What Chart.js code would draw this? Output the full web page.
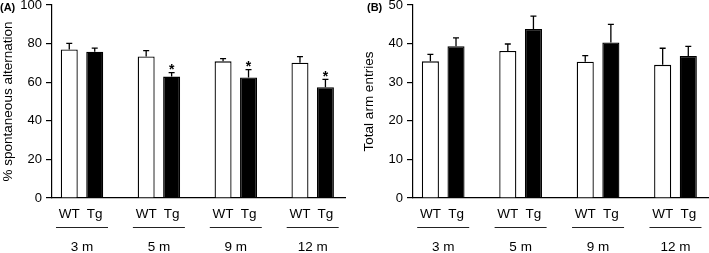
<!DOCTYPE html>
<html lang="en">
<head>
<meta charset="UTF-8" />
<title>Spontaneous alternation and total arm entries</title>
<script src="https://cdn.jsdelivr.net/npm/chart.js@4"></script>
<style>
  body { margin: 0; background: #fff; font-family: "Liberation Sans", Arial, sans-serif; }
  .wrap { position: relative; width: 709px; height: 253px; overflow: hidden; }
  canvas { position: absolute; top: 0; }
  #chartA { left: 0; }
  #chartB { left: 361px; }
  .tag { position: absolute; top: 0; font-weight: bold; font-size: 11px; line-height: 14px; color: #000; }
</style>
</head>
<body>
<div class="wrap">
  <canvas id="chartA" width="355" height="253"></canvas>
  <canvas id="chartB" width="348" height="253"></canvas>
  <div class="tag" style="left:0">(A)</div>
  <div class="tag" style="left:367px">(B)</div>
</div>

<script>
const FONT = '"Liberation Sans", Arial, sans-serif';

// age groups and genotypes
const groups = ['3 m', '5 m', '9 m', '12 m'];
const genotypes = ['WT', 'Tg'];

// (A) % spontaneous alternation
const altWT = [77.0, 73.3, 70.8, 70.1];
const altWTErr = [3.1, 3.1, 1.4, 3.2];
const altTg = [75.8, 62.9, 62.5, 57.4];
const altTgErr = [1.9, 2.1, 4.0, 4.1];
const altTgStar = [false, true, true, true];

// (B) total arm entries
const armWT = [35.4, 38.1, 35.3, 34.5];
const armWTErr = [1.8, 1.8, 1.6, 4.3];
const armTg = [39.3, 43.8, 40.3, 36.8];
const armTgErr = [2.2, 3.3, 4.7, 2.5];

Chart.defaults.font.family = FONT;
Chart.defaults.color = '#000';

// error bars, asterisks, WT/Tg labels and the age group underneath
const extras = {
    id: 'extras',
    afterDatasetsDraw(chart) {
        const { ctx, scales: { x, y } } = chart;
        ctx.save();
        ctx.strokeStyle = '#000';
        ctx.fillStyle = '#000';
        ctx.textAlign = 'center';
        chart.data.datasets.forEach((ds, di) => {
            const meta = chart.getDatasetMeta(di);
            meta.data.forEach((bar, i) => {
                const top = y.getPixelForValue(ds.data[i].y + ds.err[i]);
                ctx.lineWidth = 1.3;
                ctx.beginPath();
                ctx.moveTo(bar.x, bar.y);
                ctx.lineTo(bar.x, top);
                ctx.moveTo(bar.x - 3, top);
                ctx.lineTo(bar.x + 3, top);
                ctx.stroke();
                if (ds.stars && ds.stars[i]) {
                    ctx.font = 'bold 14px ' + FONT;
                    ctx.textBaseline = 'alphabetic';
                    ctx.fillText('*', bar.x, top + 1.5);
                }
                ctx.font = '13.5px ' + FONT;
                ctx.textBaseline = 'middle';
                ctx.fillText(ds.label, bar.x, y.bottom + 16);
            });
        });
        groups.forEach((g, i) => {
            const cx = x.getPixelForValue(i);
            ctx.lineWidth = 1;
            ctx.strokeStyle = '#222';
            ctx.beginPath();
            ctx.moveTo(cx - 26, y.bottom + 29.5);
            ctx.lineTo(cx + 26, y.bottom + 29.5);
            ctx.stroke();
            ctx.font = '13.5px ' + FONT;
            ctx.textBaseline = 'middle';
            ctx.fillText(g, cx, y.bottom + 49);
        });
        ctx.restore();
    }
};

function makeChart(id, wt, wtErr, tg, tgErr, stars, yMax, yStep, title, rightPad) {
    const toPoints = arr => arr.map((v, i) => ({ x: i, y: v }));
    return new Chart(document.getElementById(id), {
        type: 'bar',
        data: {
            datasets: [
                {
                    label: genotypes[0],
                    data: toPoints(wt),
                    err: wtErr,
                    backgroundColor: '#fff',
                    borderColor: '#000',
                    borderWidth: 1.3
                },
                {
                    label: genotypes[1],
                    data: toPoints(tg),
                    err: tgErr,
                    stars: stars,
                    backgroundColor: '#000',
                    borderColor: '#000',
                    borderWidth: 1.3
                }
            ]
        },
        options: {
            responsive: false,
            animation: false,
            categoryPercentage: 0.662,
            barPercentage: 0.667,
            layout: { padding: { top: 5, bottom: 55, left: 0, right: rightPad } },
            plugins: { legend: { display: false }, tooltip: { enabled: false } },
            scales: {
                x: {
                    type: 'linear',
                    offset: false,
                    min: -0.39,
                    max: 3.42,
                    grid: { display: false },
                    ticks: { display: false },
                    border: { color: '#000', width: 1.2 },
                    afterBuildTicks: s => { s.ticks = groups.map((g, i) => ({ value: i })); },
                    afterFit: s => {
                        s.height = 0;
                        s.paddingLeft = 0;
                        s.paddingRight = 0;
                    }
                },
                y: {
                    min: 0,
                    max: yMax,
                    ticks: { stepSize: yStep, padding: 4, font: { size: 13 }, color: '#000' },
                    grid: { drawOnChartArea: false, drawTicks: true, tickLength: 6, color: '#000', lineWidth: 1.2 },
                    border: { color: '#000', width: 1.2 },
                    title: { display: true, text: title, font: { size: 13.5 }, padding: 0, color: '#000' },
                    afterFit: s => {
                        s.width = 52;
                        s.paddingTop = 0;
                        s.paddingBottom = 0;
                    }
                }
            }
        },
        plugins: [extras]
    });
}

makeChart('chartA', altWT, altWTErr, altTg, altTgErr, altTgStar, 100, 20, '% spontaneous alternation', 10);
makeChart('chartB', armWT, armWTErr, armTg, armTgErr, null, 50, 10, 'Total arm entries', 1);
</script>
</body>
</html>
